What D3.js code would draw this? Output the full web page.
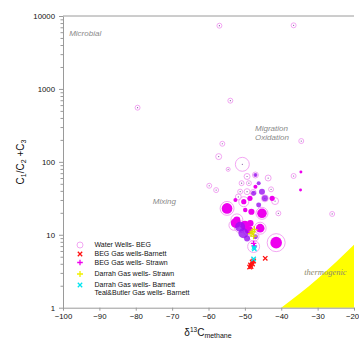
<!DOCTYPE html>
<html>
<head>
<meta charset="utf-8">
<script src="https://cdn.jsdelivr.net/npm/d3@7"></script>
<style>
  html, body { margin: 0; padding: 0; background: #fff; }
  svg { display: block; font-family: "Liberation Sans", Arial, sans-serif; }
</style>
</head>
<body>
<div id="chart"></div>
<script>
"use strict";

// [d13C methane, C1/(C2+C3), methane conc]
const waterWells = [
  [-79.5, 553, 2.3], [-57.0, 7360, 2.3], [-36.6, 7450, 2.3], [-54.0, 690, 2.3],
  [-56.2, 177, 2.3], [-34.5, 193, 2.3], [-57.2, 118, 3.3], [-50.7, 92.5, 18],
  [-54.6, 79, 1.5], [-49.4, 63, 3.3], [-47.1, 66, 3.3], [-43.6, 60, 3.3],
  [-36.6, 64, 2.3], [-59.8, 47, 2.3], [-57.9, 41, 2.3], [-51.3, 39, 2.3],
  [-49.4, 39, 3.3], [-50.9, 51, 2.3], [-48.9, 51, 2.3], [-42.8, 42, 2.3],
  [-47.7, 38, 3.3], [-41.7, 29, 4.5], [-40.8, 19.7, 2.3], [-26.0, 19.3, 2.3],
  [-54.9, 23, 18], [-45.3, 19.7, 13.3], [-52.2, 16, 13.3], [-45.8, 12.3, 13.3],
  [-41.4, 7.8, 30], [-47.6, 6.9, 13.3], [-51.8, 33, 3.3], [-44.5, 31.6, 4.5],
  [-51.3, 12.9, 13.3], [-48.9, 11.6, 13.3], [-50.3, 28.4, 9.3], [-47.5, 9.5, 9.3],
  [-53.0, 13.5, 9.3]
];
const dissolvedMagenta = [
  [-54.9, 23, 10.5], [-45.3, 19.7, 8.5], [-41.4, 7.8, 12.5], [-45.8, 12.3, 7],
  [-52.2, 16, 4.5], [-48.9, 11.6, 6.5], [-48.5, 14.4, 3.8], [-48.2, 20.7, 3.5],
  [-49.9, 21.9, 1.8], [-42.5, 31.6, 2.5], [-47.1, 45.6, 1.5], [-50.3, 28.4, 2.5],
  [-52.6, 30, 1.5], [-34.7, 41, 0.8], [-34.6, 72.6, 0.8], [-48.6, 31.6, 2.5],
  [-52.5, 14.5, 9.3], [-50.0, 13.5, 7.5]
];
const dissolvedPurple = [
  [-51.3, 12.9, 9.3], [-50.4, 10.5, 9.3], [-49.4, 8.9, 3.3], [-47.1, 9.4, 2.3],
  [-46.2, 25.6, 2.3], [-44.5, 31.6, 3.3], [-45.3, 39, 3.3], [-47.6, 37, 2.3],
  [-46.2, 51, 1.5], [-47.1, 66, 1.5]
];
const begBarnett = [
  [-48.45, 3.85], [-48.0, 4.24], [-47.6, 4.37], [-48.3, 3.67], [-47.9, 3.97],
  [-48.7, 3.61], [-44.4, 4.76]
];
const begStrawn = [[-47.4, 7.0], [-47.6, 7.6]];
const darrahStrawn = [[-47.9, 11.0], [-47.6, 9.6], [-48.3, 10.4], [-47.4, 11.8]];
const darrahBarnett = [[-47.4, 6.4], [-47.6, 4.65], [-47.5, 6.7]];
const thermoBoundary = [[-40, 1], [-30, 2.5], [-20, 7.3]];

const xTicks = [-100, -90, -80, -70, -60, -50, -40, -30, -20];
const yTicks = [1, 10, 100, 1000, 10000];
const legendLabels = [
  "Water Wells- BEG", "BEG Gas wells-Barnett", "BEG Gas wells- Strawn",
  "Darrah Gas wells- Strawn", "Darrah Gas wells- Barnett", "Teal&Butler Gas wells- Barnett"
];
const regionLabels = [
  { text: "Microbial", x: -98.3, y: 5400 },
  { text: "Mixing", x: -75.3, y: 26.8 },
  { text: "Migration", x: -47.2, y: 261 },
  { text: "Oxidation", x: -47.2, y: 199 }
];

const width = 359, height = 346;
const svg = d3.select("#chart").append("svg")
  .attr("width", width)
  .attr("height", height);

const xScale = d3.scaleLinear().domain([-100, -20]).range([63, 354]);
const yScale = d3.scaleLog().domain([1, 10000]).range([307.7, 16]);
const rScale = d3.scaleSqrt().domain([0, 30]).range([0, 9]);

// thermogenic field
const area = d3.line()
  .x(d => xScale(d[0]))
  .y(d => yScale(d[1]))
  .curve(d3.curveMonotoneX);
svg.append("path")
  .attr("d", area(thermoBoundary) + `L${xScale(-20)},${yScale(1)}Z`)
  .attr("fill", "#ffff00");

// axes
const axisColor = "#9a9a9a";
const minorY = [];
for (let p = 1; p < 10000; p *= 10) {
  for (let k = 2; k <= 9; k++) minorY.push(p * k);
}
svg.append("g")
  .attr("transform", `translate(${xScale(-100)},0)`)
  .call(d3.axisLeft(yScale).tickValues(minorY).tickFormat("").tickSize(2.5).tickSizeOuter(0))
  .call(g => g.select(".domain").remove())
  .call(g => g.selectAll("line").attr("stroke", axisColor));
const yAxis = svg.append("g")
  .attr("transform", `translate(${xScale(-100)},0)`)
  .call(d3.axisLeft(yScale).tickValues(yTicks).tickFormat(d3.format("d")).tickSize(4).tickPadding(4).tickSizeOuter(0));
const xAxis = svg.append("g")
  .attr("transform", `translate(0,${yScale(1)})`)
  .call(d3.axisBottom(xScale).tickValues(xTicks).tickSize(3).tickPadding(3).tickSizeOuter(0));
[xAxis, yAxis].forEach(g => {
  g.select(".domain").attr("stroke", axisColor);
  g.selectAll(".tick line").attr("stroke", axisColor);
  g.selectAll(".tick text").attr("font-size", 7.8).attr("fill", "#111")
    .attr("font-family", "'Liberation Sans', Arial, sans-serif");
});
// keep the last x label inside the window
xAxis.selectAll(".tick text").filter(d => d === -20).attr("dx", -2);
svg.append("line")
  .attr("x1", xScale(-100)).attr("x2", xScale(-20))
  .attr("y1", yScale(10000)).attr("y2", yScale(10000))
  .attr("stroke", axisColor);

// water wells rings
const rings = svg.append("g");
rings.selectAll("circle.ring")
  .data(waterWells)
  .join("circle")
  .attr("class", "ring")
  .attr("cx", d => xScale(d[0]))
  .attr("cy", d => yScale(d[1]))
  .attr("r", d => rScale(d[2]))
  .attr("fill", "none")
  .attr("stroke", "#f19cf1")
  .attr("stroke-width", 0.9);

// filled blobs
svg.append("g").selectAll("circle")
  .data(dissolvedMagenta)
  .join("circle")
  .attr("cx", d => xScale(d[0]))
  .attr("cy", d => yScale(d[1]))
  .attr("r", d => rScale(d[2]))
  .attr("fill", "#ee00ee");
svg.append("g").selectAll("circle")
  .data(dissolvedPurple)
  .join("circle")
  .attr("cx", d => xScale(d[0]))
  .attr("cy", d => yScale(d[1]))
  .attr("r", d => rScale(d[2]))
  .attr("fill", "#9a10f0")
  .attr("fill-opacity", 0.8);

// center dots of rings
rings.selectAll("circle.dot")
  .data(waterWells)
  .join("circle")
  .attr("class", "dot")
  .attr("cx", d => xScale(d[0]))
  .attr("cy", d => yScale(d[1]))
  .attr("r", 0.6)
  .attr("fill", "#7a5a9a");

// gas well markers
const crossPath = s => `M${-s},${-s}L${s},${s}M${-s},${s}L${s},${-s}`;
const plusPath = s => `M${-s},0L${s},0M0,${-s}L0,${s}`;
function markers(data, path, color) {
  svg.append("g").selectAll("path")
    .data(data)
    .join("path")
    .attr("transform", d => `translate(${xScale(d[0])},${yScale(d[1])})`)
    .attr("d", path)
    .attr("fill", "none")
    .attr("stroke", color)
    .attr("stroke-width", 1.3);
}
markers(begBarnett, crossPath(2.2), "#ff1010");
markers(darrahStrawn, plusPath(3.2), "#e0e000");
markers(begStrawn, plusPath(2.8), "#ee00ee");
markers(darrahBarnett, crossPath(2.2), "#00e5f0");

// region labels
svg.append("g").selectAll("text")
  .data(regionLabels)
  .join("text")
  .attr("x", d => xScale(d.x))
  .attr("y", d => yScale(d.y))
  .attr("font-size", 8)
  .attr("font-style", "italic")
  .attr("fill", "#8a8a8a")
  .text(d => d.text);
svg.append("text")
  .attr("x", xScale(-33.7))
  .attr("y", yScale(2.81))
  .attr("font-size", 8.5)
  .attr("font-style", "italic")
  .attr("font-family", "'Liberation Serif', serif")
  .attr("fill", "#8c8a6c")
  .text("thermogenic");

// legend
const legendY = [245, 254, 262.5, 274, 285, 293];
const legend = svg.append("g");
legend.selectAll("text")
  .data(legendLabels)
  .join("text")
  .attr("x", 94.5)
  .attr("y", (d, i) => legendY[i])
  .attr("dy", "0.35em")
  .attr("font-size", 7)
  .attr("fill", "#111")
  .text(d => d);
legend.append("circle")
  .attr("cx", 80).attr("cy", legendY[0]).attr("r", 3)
  .attr("fill", "none").attr("stroke", "#f19cf1").attr("stroke-width", 0.9);
const legendMarks = [
  [crossPath(2.2), "#ff1010", 1], [plusPath(2.8), "#ee00ee", 2],
  [plusPath(3), "#f0f000", 3], [crossPath(2.2), "#00e5f0", 4]
];
legendMarks.forEach(([p, c, i]) => {
  legend.append("path")
    .attr("transform", `translate(80,${legendY[i]})`)
    .attr("d", p).attr("fill", "none").attr("stroke", c).attr("stroke-width", 1.3);
});

// axis titles
const yTitle = svg.append("text")
  .attr("transform", `translate(24,162) rotate(-90)`)
  .attr("text-anchor", "middle")
  .attr("font-size", 10)
  .attr("fill", "#111");
yTitle.append("tspan").text("C");
yTitle.append("tspan").attr("font-size", 7).attr("dy", 2).text("1");
yTitle.append("tspan").attr("dy", -2).text("/C");
yTitle.append("tspan").attr("font-size", 7).attr("dy", 2).text("2");
yTitle.append("tspan").attr("dy", -2).text(" +C");
yTitle.append("tspan").attr("font-size", 7).attr("dy", 2).text("3");

const xTitle = svg.append("text")
  .attr("x", 208)
  .attr("y", 336)
  .attr("text-anchor", "middle")
  .attr("font-size", 10)
  .attr("fill", "#111");
xTitle.append("tspan").text("δ");
xTitle.append("tspan").attr("font-size", 6.5).attr("dy", -4).text("13");
xTitle.append("tspan").attr("dy", 4).text("C");
xTitle.append("tspan").attr("font-size", 7).attr("dy", 2).text("methane");
</script>
</body>
</html>
